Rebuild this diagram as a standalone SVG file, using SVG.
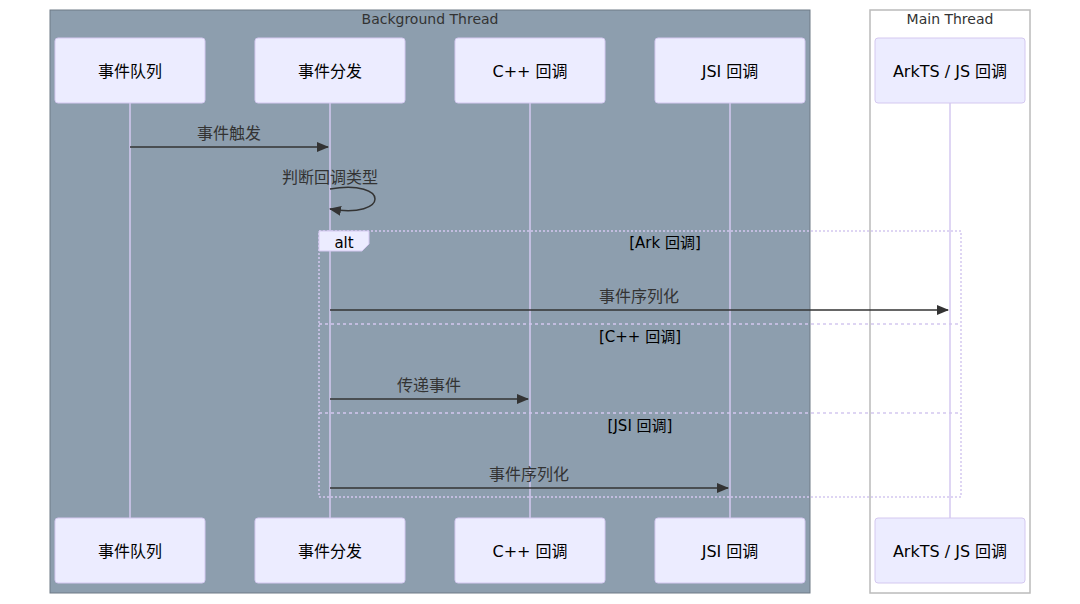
<svg xmlns="http://www.w3.org/2000/svg" width="1080" height="604" viewBox="0 0 1080 604">
<style>
text{font-family:"DejaVu Sans","Liberation Sans","Noto Sans CJK SC",sans-serif;}
.actor rect{fill:#ECECFF;stroke:#d4c8f0;stroke-width:1;}
.actor text{font-size:16px;fill:#000;text-anchor:middle;dominant-baseline:central;}
.life{stroke:#d4c8f0;stroke-width:1.5;}
.msg{stroke:#333;stroke-width:1.5;fill:none;}
.mtext{font-size:16px;fill:#333;text-anchor:middle;}
.grp{font-size:14px;fill:#333;text-anchor:middle;}
.sec{font-size:15px;fill:#000;text-anchor:middle;}
</style>
<defs>
<marker id="arr" viewBox="0 0 12 12" refX="11" refY="6" markerWidth="12" markerHeight="12" markerUnits="userSpaceOnUse" orient="auto">
<path d="M0,1 L12,6 L0,11 z" fill="#333"/>
</marker>
</defs>
<rect width="1080" height="604" fill="#fff"/>
<g id="bg-thread">
<rect x="50" y="10" width="760" height="583" fill="#8d9eae" stroke="#6e7a86" stroke-width="1"/>
<text class="grp" x="430" y="24">Background Thread</text>
</g>
<g id="main-thread">
<rect x="870" y="10" width="160" height="583" fill="#fff" stroke="#bbb" stroke-width="1.5"/>
<text class="grp" x="950" y="24">Main Thread</text>
</g>
<g id="lifelines">
<line class="life" x1="130" y1="103" x2="130" y2="518"/>
<line class="life" x1="330" y1="103" x2="330" y2="518"/>
<line class="life" x1="530" y1="103" x2="530" y2="518"/>
<line class="life" x1="730" y1="103" x2="730" y2="518"/>
<line class="life" x1="950" y1="103" x2="950" y2="518"/>
</g>
<g id="a1-top" class="actor"><rect x="55" y="38" width="150" height="65" rx="3"/><text x="130" y="71">事件队列</text></g>
<g id="a2-top" class="actor"><rect x="255" y="38" width="150" height="65" rx="3"/><text x="330" y="71">事件分发</text></g>
<g id="a3-top" class="actor"><rect x="455" y="38" width="150" height="65" rx="3"/><text x="530" y="71">C++ 回调</text></g>
<g id="a4-top" class="actor"><rect x="655" y="38" width="150" height="65" rx="3"/><text x="730" y="71">JSI 回调</text></g>
<g id="a5-top" class="actor"><rect x="875" y="38" width="150" height="65" rx="3"/><text x="950" y="71">ArkTS / JS 回调</text></g>
<g id="a1-bot" class="actor"><rect x="55" y="518" width="150" height="65" rx="3"/><text x="130" y="551">事件队列</text></g>
<g id="a2-bot" class="actor"><rect x="255" y="518" width="150" height="65" rx="3"/><text x="330" y="551">事件分发</text></g>
<g id="a3-bot" class="actor"><rect x="455" y="518" width="150" height="65" rx="3"/><text x="530" y="551">C++ 回调</text></g>
<g id="a4-bot" class="actor"><rect x="655" y="518" width="150" height="65" rx="3"/><text x="730" y="551">JSI 回调</text></g>
<g id="a5-bot" class="actor"><rect x="875" y="518" width="150" height="65" rx="3"/><text x="950" y="551">ArkTS / JS 回调</text></g>
<g id="alt-frame">
<rect x="319" y="231" width="642" height="266" fill="none" stroke="#d4c8f0" stroke-width="1.5" stroke-dasharray="2,2"/>
<line x1="319" y1="324" x2="961" y2="324" stroke="#d4c8f0" stroke-width="1.5" stroke-dasharray="3,3"/>
<line x1="319" y1="413" x2="961" y2="413" stroke="#d4c8f0" stroke-width="1.5" stroke-dasharray="3,3"/>
<polygon points="319,231 369,231 369,244 362,251 319,251" fill="#ECECFF" stroke="#d4c8f0" stroke-width="1"/>
<text x="344" y="248" font-size="15" fill="#000" text-anchor="middle">alt</text>
<text class="sec" x="665" y="248">[Ark 回调]</text>
<text class="sec" x="640" y="342">[C++ 回调]</text>
<text class="sec" x="640" y="431">[JSI 回调]</text>
</g>
<g id="connectors">
<line class="msg" x1="130" y1="147" x2="328" y2="147" marker-end="url(#arr)"/>
<text class="mtext" x="229" y="139">事件触发</text>
<path class="msg" d="M330,189 C390,179 390,219 330,209" marker-end="url(#arr)"/>
<text class="mtext" x="330" y="183">判断回调类型</text>
<line class="msg" x1="330" y1="310" x2="948" y2="310" marker-end="url(#arr)"/>
<text class="mtext" x="639" y="302">事件序列化</text>
<line class="msg" x1="330" y1="399" x2="528" y2="399" marker-end="url(#arr)"/>
<text class="mtext" x="429" y="391">传递事件</text>
<line class="msg" x1="330" y1="488" x2="728" y2="488" marker-end="url(#arr)"/>
<text class="mtext" x="529" y="480">事件序列化</text>
</g>
</svg>
